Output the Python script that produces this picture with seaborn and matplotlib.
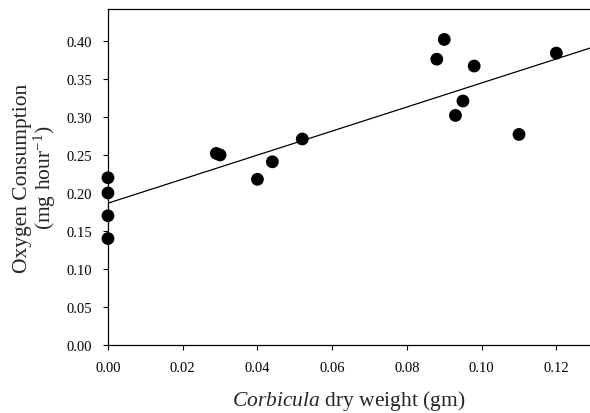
import matplotlib
matplotlib.use("Agg")
import matplotlib.pyplot as plt
import seaborn as sns
import pandas as pd

dry_weight = [0.0, 0.0, 0.0, 0.0, 0.029, 0.030, 0.040, 0.044, 0.052,
              0.088, 0.090, 0.093, 0.095, 0.098, 0.110, 0.120]
oxygen = [0.22, 0.20, 0.17, 0.14, 0.252, 0.250, 0.218, 0.241, 0.271,
          0.376, 0.402, 0.302, 0.321, 0.367, 0.277, 0.384]
x_ticks = [0.00, 0.02, 0.04, 0.06, 0.08, 0.10, 0.12]
y_ticks = [0.00, 0.05, 0.10, 0.15, 0.20, 0.25, 0.30, 0.35, 0.40]

df = pd.DataFrame({"w": dry_weight, "o2": oxygen})

sns.set_style("ticks")
plt.rcParams["font.family"] = ["Liberation Serif", "DejaVu Serif"]
plt.rcParams["mathtext.fontset"] = "custom"
plt.rcParams["mathtext.rm"] = "Liberation Serif"
plt.rcParams["mathtext.it"] = "Liberation Serif:italic"

fig = plt.figure(figsize=(5.9, 4.14), dpi=100)
ax = fig.add_axes([0.183, 0.1643, 0.817, 0.8115])
ax.set_xlim(0, 0.129)
ax.set_ylim(0, 0.442)

sns.regplot(data=df, x="w", y="o2", ax=ax, ci=None, truncate=False,
            scatter_kws=dict(s=85, color="black", alpha=1, edgecolor="none",
                             zorder=3, clip_on=False),
            line_kws=dict(color="black", lw=0.9))
ax.set_xlim(0, 0.129)
ax.set_ylim(0, 0.442)

ax.set_xticks(x_ticks)
ax.set_yticks(y_ticks)
ax.set_xticklabels([f"{v:.2f}" for v in x_ticks])
ax.set_yticklabels([f"{v:.2f}" for v in y_ticks])
ax.tick_params(direction="out", length=3.5, width=0.8, labelsize=10.5,
               colors="black", pad=8)

ax.spines["right"].set_visible(False)
for s in ["left", "bottom", "top"]:
    ax.spines[s].set_linewidth(0.9)
    ax.spines[s].set_color("black")

ax.set_xlabel(r"$\it{Corbicula}$ dry weight (gm)", fontsize=15.5, labelpad=10)
ax.set_ylabel("Oxygen Consumption\n(mg hour$^{-1}$)", fontsize=15.5, labelpad=6,
              linespacing=1.0)

fig.savefig("out.png", dpi=100)
